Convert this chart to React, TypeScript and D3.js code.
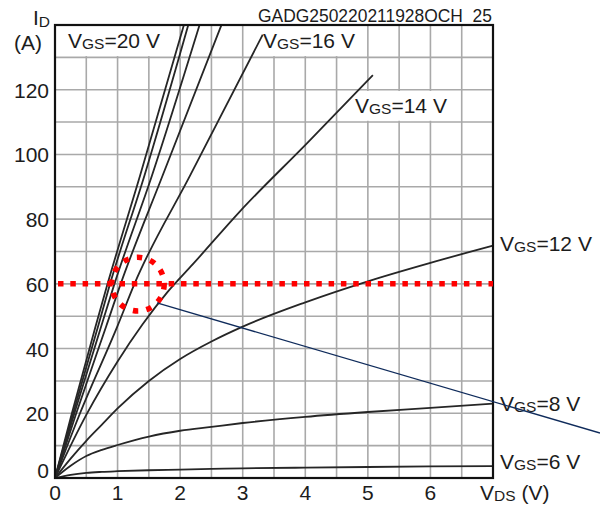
import React, { useRef, useEffect } from 'react';
import * as d3 from 'd3';

// saturating curves, sampled on a common V_DS grid (V)
const vdsGrid = [0, 0.25, 0.5, 0.75, 1, 1.5, 2, 2.5, 3, 4, 5, 6, 7];
const idVgs6 = [0, 1.0, 1.6, 1.9, 2.1, 2.4, 2.6, 2.8, 3.0, 3.2, 3.4, 3.6, 3.7];
const idVgs8 = [0, 3.8, 6.8, 8.7, 10.2, 12.8, 14.6, 15.8, 17.0, 18.9, 20.4, 21.7, 23.0];
const idVgs12 = [0, 6, 11.5, 16.5, 21.5, 30, 36.8, 42.2, 46.8, 54.3, 60.8, 66.5, 71.8];

// VGS=14 V
const vdsVgs14 = [0, 0.5, 1, 1.4, 1.8, 2.2, 2.96, 4.03, 5.08];
const idVgs14 = [0, 19.5, 36, 47.5, 57.5, 66, 82.5, 103.5, 124.5];

// VGS=16 V
const vdsVgs16 = [0, 0.4, 1.0, 1.27, 2.16, 3.32];
const idVgs16 = [0, 20, 47, 60, 93.5, 137];

// steep curves (VGS=20 V bundle), sampled on common I_D values (A)
const idSteep = [0, 20, 47, 60, 93.5, 140];
const vdsSteep1 = [0, 0.27, 0.65, 0.84, 1.36, 2.06];
const vdsSteep2 = [0, 0.29, 0.69, 0.88, 1.43, 2.13];
const vdsSteep3 = [0, 0.31, 0.74, 0.95, 1.55, 2.31];
const vdsSteep4 = [0, 0.34, 0.82, 1.05, 1.72, 2.66];

const xTicks = [0, 1, 2, 3, 4, 5, 6];
const yTicks = [0, 20, 40, 60, 80, 100, 120];

const FONT = '"Liberation Sans", Arial, sans-serif';
const INK = '#1c1c1c';

type Pt = [number, number];
const zip = (xs: number[], ys: number[]): Pt[] => xs.map((x, i) => [x, ys[i]]);

const OutputChart: React.FC = () => {
  const svgRef = useRef<SVGSVGElement | null>(null);

  useEffect(() => {
    if (!svgRef.current) return;
    const svg = d3.select(svgRef.current);
    svg.selectAll('*').remove();

    const x = d3.scaleLinear().domain([0, 7]).range([55, 493]);
    const y = d3.scaleLinear().domain([0, 140]).range([478, 25]);

    // grid
    const grid = svg.append('g').attr('stroke', '#a9a9a9').attr('stroke-width', 1.6);
    grid.selectAll('line.v')
      .data(d3.range(0.5, 7, 0.5))
      .enter().append('line')
      .attr('x1', d => x(d)).attr('x2', d => x(d))
      .attr('y1', y(0)).attr('y2', y(140));
    grid.selectAll('line.h')
      .data(d3.range(10, 140, 10))
      .enter().append('line')
      .attr('x1', x(0)).attr('x2', x(7))
      .attr('y1', d => y(d)).attr('y2', d => y(d));

    // white label boxes inside the plot
    const boxes: [number, number, number, number][] = [
      [0, 1.96, 130.4, 140],
      [3.25, 4.97, 130.4, 140],
      [4.76, 6.44, 110.4, 119.6],
    ];
    svg.selectAll('rect.box')
      .data(boxes)
      .enter().append('rect')
      .attr('x', d => x(d[0]))
      .attr('width', d => x(d[1]) - x(d[0]))
      .attr('y', d => y(d[3]))
      .attr('height', d => y(d[2]) - y(d[3]))
      .attr('fill', '#fff');

    // curves
    const line = d3.line<Pt>()
      .x(d => x(d[0]))
      .y(d => y(d[1]))
      .curve(d3.curveMonotoneX);

    const curves: Pt[][] = [
      zip(vdsGrid, idVgs6),
      zip(vdsGrid, idVgs8),
      zip(vdsGrid, idVgs12),
      zip(vdsVgs14, idVgs14),
      zip(vdsVgs16, idVgs16),
      zip(vdsSteep1, idSteep),
      zip(vdsSteep2, idSteep),
      zip(vdsSteep3, idSteep),
      zip(vdsSteep4, idSteep),
    ];
    svg.append('g')
      .selectAll('path')
      .data(curves)
      .enter().append('path')
      .attr('d', d => line(d))
      .attr('fill', 'none')
      .attr('stroke', '#262626')
      .attr('stroke-width', 1.8);

    // plot frame
    svg.append('rect')
      .attr('x', x(0)).attr('y', y(140))
      .attr('width', x(7) - x(0)).attr('height', y(0) - y(140))
      .attr('fill', 'none')
      .attr('stroke', '#111')
      .attr('stroke-width', 2.2);

    const txt = svg.append('g')
      .attr('font-family', FONT)
      .attr('fill', INK);

    // y tick labels
    txt.selectAll('text.yt')
      .data(yTicks)
      .enter().append('text')
      .attr('x', 49)
      .attr('y', d => (d === 0 ? 478 : y(d) + 8))
      .attr('text-anchor', 'end')
      .attr('font-size', 21)
      .text(d => d);

    // x tick labels
    txt.selectAll('text.xt')
      .data(xTicks)
      .enter().append('text')
      .attr('x', d => x(d))
      .attr('y', 500)
      .attr('text-anchor', 'middle')
      .attr('font-size', 21)
      .text(d => d);

    const sub = (sx: number, sy: number, main: string, small: string, rest: string) => {
      const t = txt.append('text').attr('x', sx).attr('y', sy).attr('font-size', 21);
      t.append('tspan').text(main);
      t.append('tspan').attr('font-size', 15.5).attr('dy', 1).text(small);
      t.append('tspan').attr('dy', -1).text(rest);
    };

    sub(68, 48, 'V', 'GS', '=20 V');
    sub(263, 48, 'V', 'GS', '=16 V');
    sub(355, 113, 'V', 'GS', '=14 V');
    sub(500, 251, 'V', 'GS', '=12 V');
    sub(500, 411, 'V', 'GS', '=8 V');
    sub(500, 469, 'V', 'GS', '=6 V');
    sub(480, 500, 'V', 'DS', ' (V)');

    // axis unit
    const idT = txt.append('text').attr('x', 33).attr('y', 25).attr('font-size', 21);
    idT.append('tspan').text('I');
    idT.append('tspan').attr('font-size', 15.5).attr('dy', 2).text('D');
    txt.append('text').attr('x', 14).attr('y', 50).attr('font-size', 21).text('(A)');

    // figure code
    txt.append('text')
      .attr('x', 258).attr('y', 22)
      .attr('font-size', 18)
      .attr('textLength', 234)
      .attr('lengthAdjust', 'spacingAndGlyphs')
      .attr('xml:space', 'preserve')
      .text('GADG250220211928OCH  25');

    // red annotations
    svg.append('line')
      .attr('x1', x(0) + 3).attr('x2', x(7))
      .attr('y1', y(60)).attr('y2', y(60))
      .attr('stroke', '#ff0000')
      .attr('stroke-width', 5.5)
      .attr('stroke-dasharray', '5.5 6.8');

    svg.append('ellipse')
      .attr('cx', x(1.325)).attr('cy', y(59.9))
      .attr('rx', x(0.42) - x(0)).attr('ry', y(0) - y(8.3))
      .attr('fill', 'none')
      .attr('stroke', '#ff0000')
      .attr('stroke-width', 5.5)
      .attr('stroke-dasharray', '5.5 8.2');

    // pointer line
    svg.append('line')
      .attr('x1', x(1.63)).attr('y1', y(54.1))
      .attr('x2', x(8.71)).attr('y2', y(13.9))
      .attr('stroke', '#0f2b5b')
      .attr('stroke-width', 1.3);
  }, []);

  return (
    <svg
      ref={svgRef}
      width={600}
      height={508}
      style={{ position: 'absolute', left: 0, top: 0, background: '#fff' }}
    />
  );
};

export default function App() {
  return <OutputChart />;
}
